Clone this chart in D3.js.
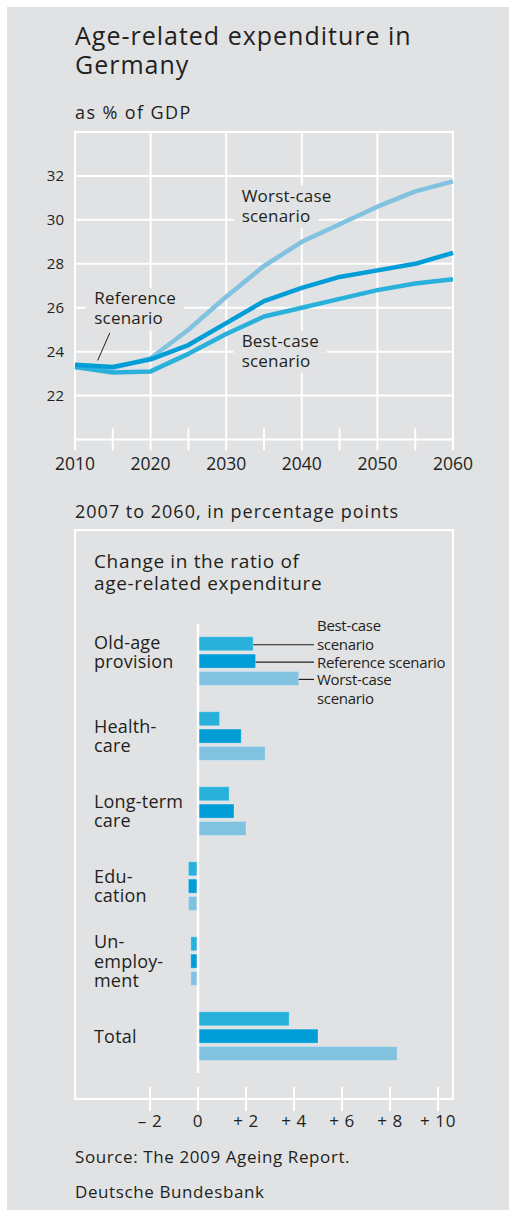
<!DOCTYPE html>
<html>
<head>
<meta charset="utf-8">
<script src="https://cdn.jsdelivr.net/npm/d3@7"></script>
<style>
  body { margin: 0; background: #fff; }
  svg { display: block; font-family: "Open Sans", "Noto Sans", sans-serif; }
  text { fill: #231f20; }
</style>
</head>
<body>
<svg id="chart" width="515" height="1210"></svg>
<script>
// ---- data -------------------------------------------------------------
var years = [2010, 2015, 2020, 2025, 2030, 2035, 2040, 2045, 2050, 2055, 2060];
var worstLine = [23.3, 23.25, 23.7, 25.0, 26.5, 27.9, 29.0, 29.8, 30.6, 31.3, 31.75];
var bestLine  = [23.3, 23.05, 23.1, 23.9, 24.8, 25.6, 26.0, 26.4, 26.8, 27.1, 27.3];
var refLine   = [23.4, 23.3, 23.65, 24.3, 25.3, 26.3, 26.9, 27.4, 27.7, 28.0, 28.5];
var yTicks = [22, 24, 26, 28, 30, 32];
var xMajor = [2010, 2020, 2030, 2040, 2050, 2060];
var xMinor = [2015, 2025, 2035, 2045, 2055];

var categories = ["Old-age provision", "Health-care", "Long-term care", "Education", "Unemployment", "Total"];
var catLines = [["Old-age", "provision"], ["Health-", "care"], ["Long-term", "care"], ["Edu-", "cation"], ["Un-", "employ-", "ment"], ["Total"]];
var series = ["best", "ref", "worst"];
var bestBars  = [2.3, 0.9, 1.3, -0.4, -0.3, 3.8];
var refBars   = [2.4, 1.8, 1.5, -0.4, -0.3, 5.0];
var worstBars = [4.2, 2.8, 2.0, -0.4, -0.3, 8.3];
var barTicks = [-2, 0, 2, 4, 6, 8, 10];
var barTickLabels = ["\u2013 2", "0", "+ 2", "+ 4", "+ 6", "+ 8", "+ 10"];

var colors = { best: "#29b1dc", ref: "#009dd6", worst: "#80c2e0" };
var bg = "#e1e2e4";

var svg = d3.select("#chart");
svg.append("rect").attr("x", 7).attr("y", 7).attr("width", 502).attr("height", 1203).attr("fill", bg);

function txt(s, tx, ty, size, ls) {
  return svg.append("text").attr("x", tx).attr("y", ty)
    .style("font-size", size + "px").style("letter-spacing", (ls || 0) + "px").text(s);
}

// ---- titles -----------------------------------------------------------
txt("Age-related expenditure in", 75, 45, 25, 1);
txt("Germany", 75, 74, 25, 1);
txt("as % of GDP", 75, 119, 18, 1.4);

// ---- line chart -------------------------------------------------------
var x = d3.scaleLinear().domain([2010, 2060]).range([75, 453]);
var y = d3.scaleLinear().domain([20, 34]).range([439.5, 132]);

var grid = svg.append("g").attr("stroke", "#fff").attr("stroke-width", 2);
grid.selectAll(".h").data(yTicks.concat([20, 34])).enter().append("line")
  .attr("x1", x(2010) - 1).attr("x2", x(2060) + 1)
  .attr("y1", function(d) { return y(d); }).attr("y2", function(d) { return y(d); });
grid.selectAll(".v").data(xMajor).enter().append("line")
  .attr("x1", function(d) { return x(d); }).attr("x2", function(d) { return x(d); })
  .attr("y1", y(34)).attr("y2", y(20) + 11);
grid.selectAll(".m").data(xMinor).enter().append("line")
  .attr("x1", function(d) { return x(d); }).attr("x2", function(d) { return x(d); })
  .attr("y1", y(20) - 11).attr("y2", y(20) + 11);

// labels on the lines, with a background box that breaks the grid
function boxedLabel(lines, lx, ly) {
  var g = svg.append("g");
  lines.forEach(function(t, i) {
    var tx = g.append("text").attr("x", lx).attr("y", ly + i * 20)
      .style("font-size", "17px").style("letter-spacing", "0.2px").text(t);
    var b = tx.node().getBBox();
    g.insert("rect", "text").attr("x", b.x - 8).attr("y", ly + i * 20 - 16)
      .attr("width", b.width + 16).attr("height", 22).attr("fill", bg);
  });
}
boxedLabel(["Worst-case", "scenario"], 241.7, 201.7);
boxedLabel(["Best-case", "scenario"], 241.7, 346.7);
boxedLabel(["Reference", "scenario"], 94.3, 304.3);

// leader for reference label
svg.append("line").attr("x1", x(2014.6)).attr("y1", y(24.85)).attr("x2", x(2013)).attr("y2", y(23.6))
  .attr("stroke", "#231f20").attr("stroke-width", 1);

var line = d3.line().x(function(d, i) { return x(years[i]); }).y(function(d) { return y(d); });
[["worst", worstLine], ["best", bestLine], ["ref", refLine]].forEach(function(s) {
  svg.append("path").datum(s[1]).attr("d", line).attr("fill", "none")
    .attr("stroke", colors[s[0]]).attr("stroke-width", 4.5).attr("stroke-linejoin", "round");
});

svg.append("g").selectAll("text").data(yTicks).enter().append("text")
  .attr("x", 64).attr("y", function(d) { return y(d) + 5; }).attr("text-anchor", "end")
  .style("font-size", "15px").text(function(d) { return d; });
svg.append("g").selectAll("text").data(xMajor).enter().append("text")
  .attr("x", function(d) { return x(d); }).attr("y", 470).attr("text-anchor", "middle")
  .style("font-size", "17.5px").text(function(d) { return d; });

// ---- bar chart --------------------------------------------------------
txt("2007 to 2060, in percentage points", 75, 518.3, 18, 1);

var bx = d3.scaleLinear().domain([-2, 10]).range([150, 438]);
var by = d3.scaleBand().domain(categories).range([636.7, 1060.5]).paddingInner(0.35).paddingOuter(0);
var sy = d3.scaleBand().domain(series).range([0, by.bandwidth()]).paddingInner(0.19);

svg.append("rect").attr("x", 75).attr("y", 530).attr("width", 378).attr("height", 569)
  .attr("fill", "none").attr("stroke", "#fff").attr("stroke-width", 2);
svg.append("g").selectAll("line").data(barTicks).enter().append("line")
  .attr("x1", function(d) { return bx(d); }).attr("x2", function(d) { return bx(d); })
  .attr("y1", 1087).attr("y2", 1111).attr("stroke", "#fff").attr("stroke-width", 2);
svg.append("g").selectAll("text").data(barTicks).enter().append("text")
  .attr("x", function(d) { return bx(d); }).attr("y", 1126.5).attr("text-anchor", "middle")
  .style("font-size", "17px").style("letter-spacing", "0.6px")
  .text(function(d, i) { return barTickLabels[i]; });

txt("Change in the ratio of", 94, 567.7, 19, 0.65);
txt("age-related expenditure", 94, 590, 19, 0.65);

var barVals = { best: bestBars, ref: refBars, worst: worstBars };
series.forEach(function(s) {
  svg.append("g").selectAll("rect").data(barVals[s]).enter().append("rect")
    .attr("x", function(d) { return bx(Math.min(0, d)); })
    .attr("width", function(d) { return Math.abs(bx(d) - bx(0)); })
    .attr("y", function(d, i) { return by(categories[i]) + sy(s); })
    .attr("height", sy.bandwidth())
    .attr("fill", colors[s]).attr("stroke", "rgba(255,255,255,0.3)").attr("stroke-width", 1);
});

svg.append("line").attr("x1", bx(0)).attr("x2", bx(0)).attr("y1", 624).attr("y2", 1073)
  .attr("stroke", "#fff").attr("stroke-width", 2.5);

// category labels
catLines.forEach(function(ls, i) {
  var c = by(categories[i]) + by.bandwidth() / 2;
  var first = c - ((ls.length - 1) * 19.5 - 12.8) / 2;
  if (i === 0) first -= 9;
  ls.forEach(function(l, j) {
    txt(l, 94, first + j * 19.5, 18, 0.2);
  });
});

// legend on the first group
var legendText = { best: ["Best-case", "scenario"], ref: ["Reference scenario"], worst: ["Worst-case", "scenario"] };
series.forEach(function(s) {
  var ly = by(categories[0]) + sy(s) + sy.bandwidth() / 2 + 1;
  svg.append("line").attr("x1", bx(barVals[s][0])).attr("x2", 314).attr("y1", ly).attr("y2", ly)
    .attr("stroke", "#231f20").attr("stroke-width", 1.2);
  var ls = legendText[s];
  var base = s === "best" ? ly + 5 - 19 : ly + 5.5;
  ls.forEach(function(l, j) {
    txt(l, 317, base + j * 19.5, 15, -0.3);
  });
});

// ---- footer -----------------------------------------------------------
txt("Source: The 2009 Ageing Report.", 75, 1163, 17, 0.6);
txt("Deutsche Bundesbank", 75, 1198, 17, 0.6);
</script>
</body>
</html>
